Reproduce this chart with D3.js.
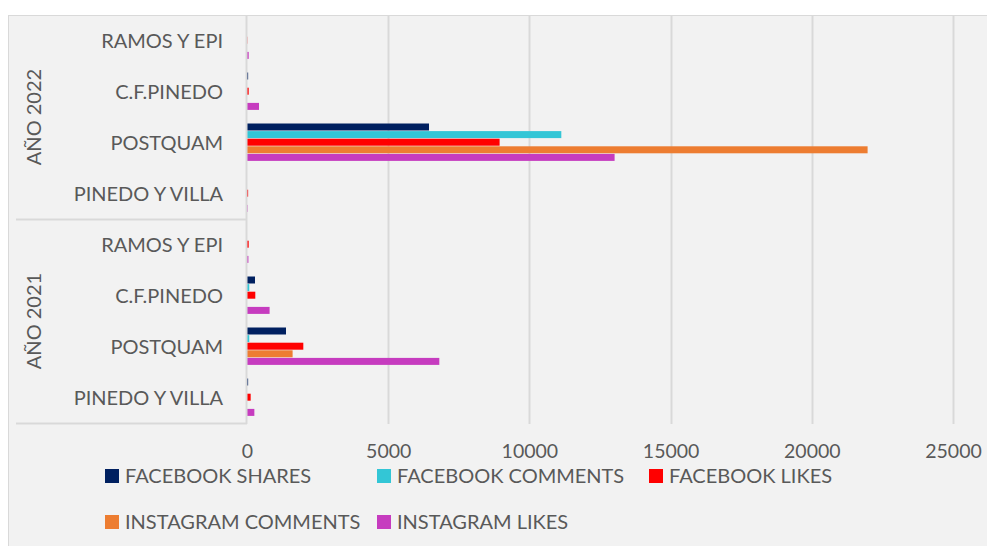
<!DOCTYPE html>
<html>
<head>
<meta charset="utf-8">
<script src="https://cdn.jsdelivr.net/npm/d3@7"></script>
<style>
  body { margin: 0; background: #fff; }
  svg text { font-family: Lato, "Open Sans", sans-serif; fill: #595959; }
</style>
</head>
<body>
<div id="chart"></div>
<script>
var svgWidth = 987;
var svgHeight = 546;

// data
var years = ["AÑO 2022", "AÑO 2021"];
var clubs = ["RAMOS Y EPI", "C.F.PINEDO", "POSTQUAM", "PINEDO Y VILLA"];
var seriesNames = ["FACEBOOK SHARES", "FACEBOOK COMMENTS", "FACEBOOK LIKES", "INSTAGRAM COMMENTS", "INSTAGRAM LIKES"];
var seriesColors = ["#002060", "#33C6D6", "#FF0000", "#ED7D31", "#C63CBF"];
// rows: 2022 (ramos, cf, postquam, pinedo), 2021 (ramos, cf, postquam, pinedo)
var fbShares   = [0, 40, 6445, 0, 0, 283, 1381, 40];
var fbComments = [0, 0, 11130, 0, 0, 80, 80, 0];
var fbLikes    = [10, 60, 8945, 40, 60, 294, 1994, 130];
var igComments = [0, 0, 21976, 0, 0, 0, 1615, 0];
var igLikes    = [60, 425, 13017, 20, 50, 800, 6810, 260];
var xTicks = [0, 5000, 10000, 15000, 20000, 25000];

var seriesValues = [fbShares, fbComments, fbLikes, igComments, igLikes];

var rows = [];
years.forEach(function(y, yi) {
  clubs.forEach(function(c, ci) {
    rows.push({ id: yi * clubs.length + ci, year: y, club: c });
  });
});

var plot = { left: 247, right: 953, top: 15, bottom: 423 };

var svg = d3.select("#chart")
  .append("svg")
  .attr("width", svgWidth)
  .attr("height", svgHeight);

// chart area background + border
svg.append("rect")
  .attr("x", 8.5).attr("y", 15.5)
  .attr("width", svgWidth).attr("height", svgHeight)
  .attr("fill", "#F2F2F2")
  .attr("stroke", "#D9D9D9");

var x = d3.scaleLinear()
  .domain([0, 25000])
  .range([plot.left, plot.right]);

var y = d3.scaleBand()
  .domain(rows.map(d => d.id))
  .range([plot.top, plot.bottom])
  .paddingInner(0.255)
  .paddingOuter(0.1275);

var ySub = d3.scaleBand()
  .domain(d3.range(seriesNames.length))
  .range([0, y.bandwidth()]);

// gridlines
svg.append("g")
  .selectAll("line")
  .data(xTicks.slice(1))
  .enter()
  .append("line")
  .attr("x1", d => Math.round(x(d)) + 0.5)
  .attr("x2", d => Math.round(x(d)) + 0.5)
  .attr("y1", plot.top)
  .attr("y2", plot.bottom + 1)
  .attr("stroke", "#D9D9D9")
  .attr("stroke-width", 2);

// tick labels
var xAxis = d3.axisBottom(x).tickValues(xTicks).tickSize(0).tickFormat(d3.format("d"));
var xg = svg.append("g")
  .attr("transform", `translate(0, ${plot.bottom})`)
  .call(xAxis);
xg.select(".domain").remove();
xg.selectAll("text")
  .attr("y", 35)
  .attr("dy", 0)
  .attr("font-size", "19.5px")
  .attr("font-family", null)
  .attr("fill", "#595959");

// bars
rows.forEach(function(r) {
  var g = svg.append("g").attr("transform", `translate(0, ${y(r.id)})`);
  g.selectAll("rect")
    .data(seriesValues.map((vals, si) => ({ si: si, v: vals[r.id] })))
    .enter()
    .append("rect")
    .attr("x", x(0))
    .attr("y", d => ySub(d.si))
    .attr("width", d => x(d.v) - x(0))
    .attr("height", ySub.bandwidth() - 0.6)
    .attr("fill", d => seriesColors[d.si]);
});

// category axis lines
var axisColor = "#D9D9D9";
svg.append("line")
  .attr("x1", plot.left - 0.5).attr("x2", plot.left - 0.5)
  .attr("y1", plot.top).attr("y2", plot.bottom + 1)
  .attr("stroke", axisColor).attr("stroke-width", 2);

var groupH = (plot.bottom - plot.top) / years.length;
years.forEach(function(yr, i) {
  svg.append("line")
    .attr("x1", 16).attr("x2", plot.left)
    .attr("y1", plot.top + groupH * (i + 1) + 0.5)
    .attr("y2", plot.top + groupH * (i + 1) + 0.5)
    .attr("stroke", axisColor).attr("stroke-width", 2);

  svg.append("text")
    .attr("transform", `translate(41, ${plot.top + groupH * (i + 0.5)}) rotate(-90)`)
    .attr("text-anchor", "middle")
    .attr("font-size", "20px")
    .text(yr);
});

// club labels
svg.append("g")
  .selectAll("text")
  .data(rows)
  .enter()
  .append("text")
  .attr("x", 223)
  .attr("y", d => y(d.id) + y.bandwidth() / 2)
  .attr("dy", "0.35em")
  .attr("text-anchor", "end")
  .attr("font-size", "20px")
  .text(d => d.club);

// legend
var legend = svg.append("g");
var items = legend.selectAll("g")
  .data(seriesNames)
  .enter()
  .append("g")
  .attr("transform", (d, i) => `translate(${105 + (i % 3) * 272}, ${476 + Math.floor(i / 3) * 46})`);

items.append("rect")
  .attr("x", 0).attr("y", -7)
  .attr("width", 14).attr("height", 14)
  .attr("fill", (d, i) => seriesColors[i]);

items.append("text")
  .attr("x", 20)
  .attr("dy", "0.35em")
  .attr("font-size", "20px")
  .text(d => d);
</script>
</body>
</html>
